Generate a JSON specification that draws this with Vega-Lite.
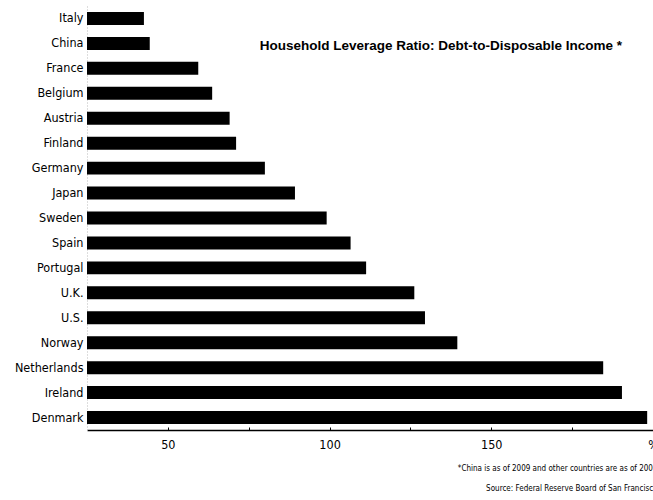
{
  "$schema": "https://vega.github.io/schema/vega-lite/v6.json",
  "autosize": {"type": "none"},
  "width": 566,
  "height": 424,
  "padding": {"left": 87, "top": 6, "right": 0, "bottom": 70},
  "background": "white",
  "title": {
    "text": "Household Leverage Ratio: Debt-to-Disposable Income *",
    "anchor": "end",
    "frame": "group",
    "orient": "top",
    "font": "Liberation Sans",
    "fontSize": 13.5,
    "fontWeight": "bold",
    "color": "black",
    "dx": -31,
    "dy": 50
  },
  "data": {
    "values": [
      {"country": "Italy", "ratio": 42.6},
      {"country": "China", "ratio": 44.4},
      {"country": "France", "ratio": 59.4},
      {"country": "Belgium", "ratio": 63.7},
      {"country": "Austria", "ratio": 69.1},
      {"country": "Finland", "ratio": 71.1},
      {"country": "Germany", "ratio": 80.0},
      {"country": "Japan", "ratio": 89.3},
      {"country": "Sweden", "ratio": 99.1},
      {"country": "Spain", "ratio": 106.5},
      {"country": "Portugal", "ratio": 111.3},
      {"country": "U.K.", "ratio": 126.2},
      {"country": "U.S.", "ratio": 129.5},
      {"country": "Norway", "ratio": 139.5},
      {"country": "Netherlands", "ratio": 184.6},
      {"country": "Ireland", "ratio": 190.4},
      {"country": "Denmark", "ratio": 198.2}
    ]
  },
  "mark": {"type": "bar", "color": "black", "clip": true},
  "encoding": {
    "y": {
      "field": "country",
      "type": "nominal",
      "sort": null,
      "scale": {"paddingInner": 0.48, "paddingOuter": 0.24},
      "axis": {
        "title": null,
        "ticks": false,
        "labelPadding": 4,
        "labelFont": "DejaVu Sans Condensed, Liberation Sans Narrow, sans-serif",
        "labelFontSize": 12.5,
        "labelColor": "black",
        "domainColor": "#bbbbbb",
        "domainDash": [1, 2],
        "domainWidth": 1
      }
    },
    "x": {
      "field": "ratio",
      "type": "quantitative",
      "scale": {"domain": [25, 200], "nice": false, "zero": false},
      "axis": {
        "values": [50, 75, 100, 125, 150, 175, 200],
        "labelExpr": "datum.value == 200 ? '%' : (datum.value % 50 == 0 ? datum.label : '')",
        "grid": false,
        "domainColor": "black",
        "domainWidth": 1.5,
        "tickColor": "black",
        "tickSize": -3,
        "tickWidth": 1,
        "labelPadding": 11,
        "labelFont": "DejaVu Sans Condensed, Liberation Sans Narrow, sans-serif",
        "labelFontSize": 12.5,
        "labelColor": "black",
        "labelFlush": false,
        "title": ["*China is as of 2009 and other countries are as of 2008", "Source: Federal Reserve Board of San Francisco"],
        "titleFont": "Liberation Sans Narrow, DejaVu Sans Condensed, sans-serif",
        "titleFontSize": 8,
        "titleFontWeight": "normal",
        "titleColor": "black",
        "titleAlign": "right",
        "titleAnchor": "end",
        "titleBaseline": "top",
        "titleLineHeight": 20,
        "titleX": 570,
        "titleY": 34
      }
    }
  },
  "config": {"view": {"stroke": null}}
}
